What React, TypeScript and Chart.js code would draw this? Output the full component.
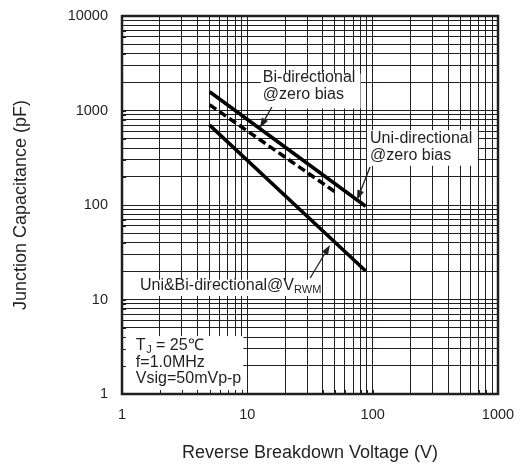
import { useEffect, useRef } from 'react';
import { Chart, registerables } from 'chart.js';

Chart.register(...registerables);

// ---- data ----
const biX = [5, 88];
const biY = [1580, 97];
const uniX = [5, 50];
const uniY = [1150, 138];
const rwmX = [5, 88];
const rwmY = [700, 20];

const xTickLabels = [1, 10, 100, 1000];
const yTickLabels = [1, 10, 100, 1000, 10000];

const TEXT = '#231f20';
const FONT = '"Liberation Sans", Arial, sans-serif';

function logGrid(min: number, max: number) {
  const out: { value: number }[] = [];
  for (let d = min; d < max; d *= 10) {
    for (let k = 1; k <= 9; k++) out.push({ value: Math.round(d * k * 1000) / 1000 });
  }
  out.push({ value: max });
  return out;
}

const annotationPlugin = {
  id: 'annot',
  beforeDatasetsDraw(chart: any) {
    const { ctx, scales } = chart;
    const x = scales.x, y = scales.y;
    const px = (v: number) => x.getPixelForValue(v);
    const py = (v: number) => y.getPixelForValue(v);
    ctx.save();
    ctx.fillStyle = '#ffffff';
    const box = (x0: number, y0: number, x1: number, y1: number) => {
      const a = px(x0), b = py(y0), c = px(x1), d = py(y1);
      ctx.fillRect(Math.min(a, c), Math.min(b, d), Math.abs(c - a), Math.abs(d - b));
    };
    box(12.8, 2450, 80, 1050);   // Bi-directional label
    box(90, 620, 690, 260);      // Uni-directional label
    box(1.3, 16.2, 33.5, 10.9);  // V_RWM label
    box(1, 4.1, 9.3, 1);         // conditions box
    ctx.restore();
  },
  afterDatasetsDraw(chart: any) {
    const { ctx, scales, chartArea } = chart;
    const x = scales.x, y = scales.y;
    const px = (v: number) => x.getPixelForValue(v);
    const py = (v: number) => y.getPixelForValue(v);
    ctx.save();

    // inward ticks on the edges
    ctx.strokeStyle = TEXT;
    ctx.lineWidth = 1;
    const tl = 4;
    for (const t of logGrid(1, 1000)) {
      const xx = Math.round(px(t.value)) + 0.5;
      ctx.beginPath();
      ctx.moveTo(xx, chartArea.bottom);
      ctx.lineTo(xx, chartArea.bottom - tl);
      ctx.stroke();
    }
    for (const t of logGrid(1, 10000)) {
      const yy = Math.round(py(t.value)) + 0.5;
      ctx.beginPath();
      ctx.moveTo(chartArea.left, yy);
      ctx.lineTo(chartArea.left + tl, yy);
      ctx.stroke();
    }

    // arrows
    const arrow = (x0: number, y0: number, x1: number, y1: number) => {
      const a = px(x0), b = py(y0), c = px(x1), d = py(y1);
      const ang = Math.atan2(d - b, c - a);
      const L = 10, W = 3.5;
      const bx = c - L * Math.cos(ang), by = d - L * Math.sin(ang);
      ctx.strokeStyle = TEXT;
      ctx.lineWidth = 1.3;
      ctx.beginPath();
      ctx.moveTo(a, b);
      ctx.lineTo(bx, by);
      ctx.stroke();
      ctx.fillStyle = TEXT;
      ctx.beginPath();
      ctx.moveTo(c, d);
      ctx.lineTo(bx + W * Math.sin(ang), by - W * Math.cos(ang));
      ctx.lineTo(bx - W * Math.sin(ang), by + W * Math.cos(ang));
      ctx.closePath();
      ctx.fill();
    };
    arrow(15.7, 1089, 12.6, 653);
    arrow(95.3, 252, 75, 113);
    arrow(31.7, 16.9, 45.7, 37.8);

    // texts
    ctx.fillStyle = TEXT;
    ctx.textBaseline = 'middle';
    ctx.textAlign = 'left';
    const big = `16px ${FONT}`;
    const small = `11px ${FONT}`;
    const txt = (s: string, xv: number, yv: number) => {
      ctx.font = big;
      ctx.fillText(s, px(xv), py(yv));
    };
    txt('Bi-directional', 13.3, 2208);
    txt('@zero bias', 13.3, 1459);
    txt('Uni-directional', 95.3, 499);
    txt('@zero bias', 95.3, 330);

    // V_RWM label with subscript
    {
      const x0 = px(1.39), y0 = py(13.9);
      ctx.font = big;
      const main = 'Uni&Bi-directional@V';
      ctx.fillText(main, x0, y0);
      const w = ctx.measureText(main).width;
      ctx.font = small;
      ctx.fillText('RWM', x0 + w, y0 + 4);
    }
    // conditions
    {
      const x0 = px(1.29);
      ctx.font = big;
      const y1 = py(3.22);
      ctx.fillText('T', x0, y1);
      const wT = ctx.measureText('T').width;
      ctx.font = small;
      ctx.fillText('J', x0 + wT + 0.5, y1 + 4);
      const wJ = ctx.measureText('J').width;
      ctx.font = big;
      ctx.fillText(' = 25\u2103', x0 + wT + wJ + 0.5, y1);
      ctx.fillText('f=1.0MHz', x0, py(2.13));
      ctx.fillText('Vsig=50mVp-p', x0, py(1.47));
    }

    // frame
    ctx.strokeStyle = TEXT;
    ctx.lineWidth = 2.5;
    ctx.strokeRect(chartArea.left, chartArea.top, chartArea.right - chartArea.left, chartArea.bottom - chartArea.top);
    ctx.restore();
  },
};

function pts(xs: number[], ys: number[]) {
  return xs.map((v, i) => ({ x: v, y: ys[i] }));
}

export default function App() {
  const ref = useRef<HTMLCanvasElement | null>(null);
  useEffect(() => {
    if (!ref.current) return;
    const tickFont = { family: FONT, size: 14.5 };
    const chart = new Chart(ref.current, {
      type: 'line',
      data: {
        datasets: [
          {
            label: 'Bi-directional @zero bias',
            data: pts(biX, biY),
            borderColor: '#000',
            borderWidth: 3.5,
            pointRadius: 0,
            borderCapStyle: 'butt',
          },
          {
            label: 'Uni-directional @zero bias',
            data: pts(uniX, uniY),
            borderColor: '#000',
            borderWidth: 3.5,
            borderDash: [8, 4],
            pointRadius: 0,
            borderCapStyle: 'butt',
          },
          {
            label: 'Uni&Bi-directional@VRWM',
            data: pts(rwmX, rwmY),
            borderColor: '#000',
            borderWidth: 3.5,
            pointRadius: 0,
            borderCapStyle: 'butt',
          },
        ],
      },
      options: {
        animation: false,
        responsive: false,
        events: [],
        layout: { padding: { top: 16, right: 29, left: 0, bottom: 0 } },
        plugins: { legend: { display: false }, tooltip: { enabled: false } },
        scales: {
          x: {
            type: 'logarithmic',
            position: 'bottom',
            min: 1,
            max: 1000,
            afterBuildTicks: (s: any) => { s.ticks = logGrid(1, 1000); },
            afterFit: (s: any) => { s.height = 72; s.paddingLeft = 0; s.paddingRight = 0; },
            grid: { color: TEXT, lineWidth: 1, drawTicks: false },
            border: { color: TEXT, width: 2 },
            ticks: {
              autoSkip: false,
              maxRotation: 0,
              padding: 12,
              color: TEXT,
              font: tickFont,
              callback: (v: any) => (xTickLabels.includes(Number(v)) ? String(v) : ''),
            },
            title: {
              display: true,
              text: 'Reverse Breakdown Voltage (V)',
              color: TEXT,
              font: { family: FONT, size: 18 },
              padding: { top: 0, bottom: 2 },
            },
          },
          y: {
            type: 'logarithmic',
            position: 'left',
            min: 1,
            max: 10000,
            afterBuildTicks: (s: any) => { s.ticks = logGrid(1, 10000); },
            afterFit: (s: any) => { s.width = 122; s.paddingTop = 0; s.paddingBottom = 0; },
            grid: { color: TEXT, lineWidth: 1, drawTicks: false },
            border: { color: TEXT, width: 2 },
            ticks: {
              autoSkip: false,
              padding: 14,
              color: TEXT,
              font: tickFont,
              callback: (v: any) => (yTickLabels.includes(Number(v)) ? String(v) : ''),
            },
            title: {
              display: true,
              text: 'Junction Capacitance (pF)',
              color: TEXT,
              font: { family: FONT, size: 18 },
              padding: { top: 10, bottom: 0 },
            },
          },
        },
      } as any,
      plugins: [annotationPlugin],
    });
    return () => chart.destroy();
  }, []);
  return (
    <div style={{ position: 'fixed', left: 0, top: 0, width: 527, height: 466, background: '#fff' }}>
      <canvas ref={ref} width={527} height={466} style={{ width: 527, height: 466 }} />
    </div>
  );
}
